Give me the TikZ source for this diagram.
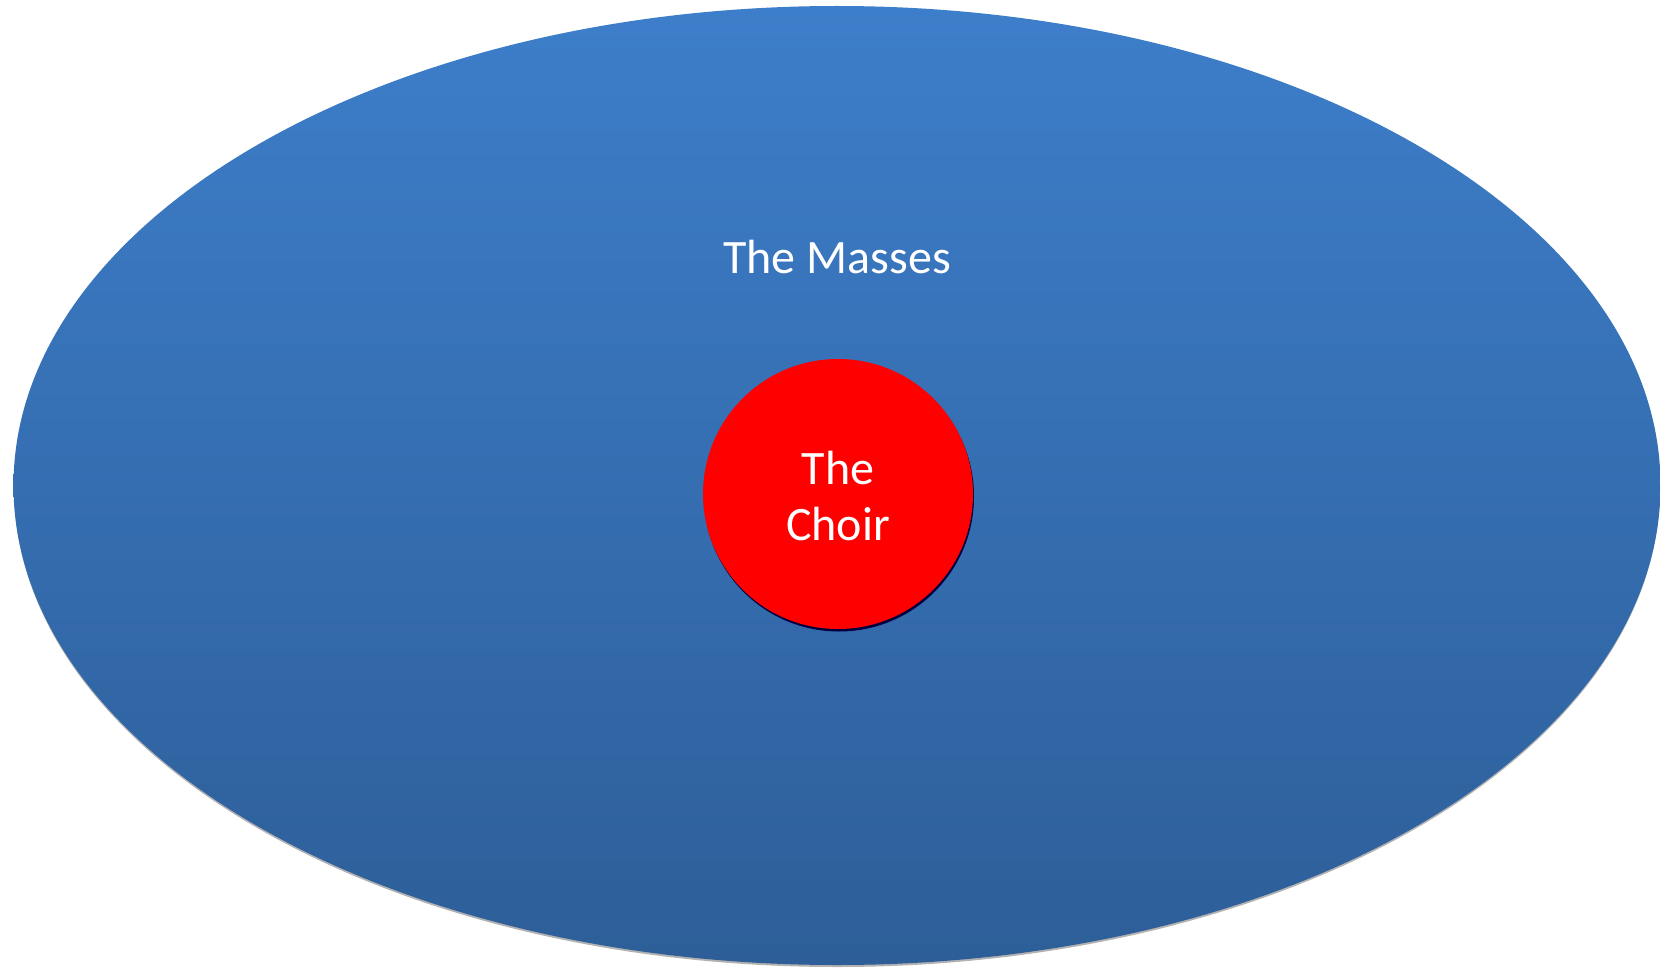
\documentclass[tikz,border=0pt]{standalone}
\usepackage{fontspec}
\setmainfont{Carlito}
\definecolor{masstop}{RGB}{61,126,202}
\definecolor{massbot}{RGB}{45,94,152}
\definecolor{choirred}{RGB}{255,0,0}
\begin{document}
\begin{tikzpicture}[x=1pt,y=-1pt,
  lbl/.style={text=white,font=\fontsize{48}{56}\selectfont,align=center,inner sep=0pt}]
\useasboundingbox (0,0) rectangle (1661,968);
% ellipse shadow
\fill[gray!60] (837,488) ellipse [x radius=823, y radius=479];
\shade[top color=masstop,bottom color=massbot] (837,485.5) ellipse [x radius=823.5, y radius=479.5];
\node[lbl] (masses) at (837,257) {The Masses};
% circle shadow
\fill[black!75!blue] (839,496.5) circle [radius=135];
\fill[choirred] (838,494) circle [radius=135];
\node[lbl] (choir) at (838,496) {The\\Choir};
\end{tikzpicture}
\end{document}
